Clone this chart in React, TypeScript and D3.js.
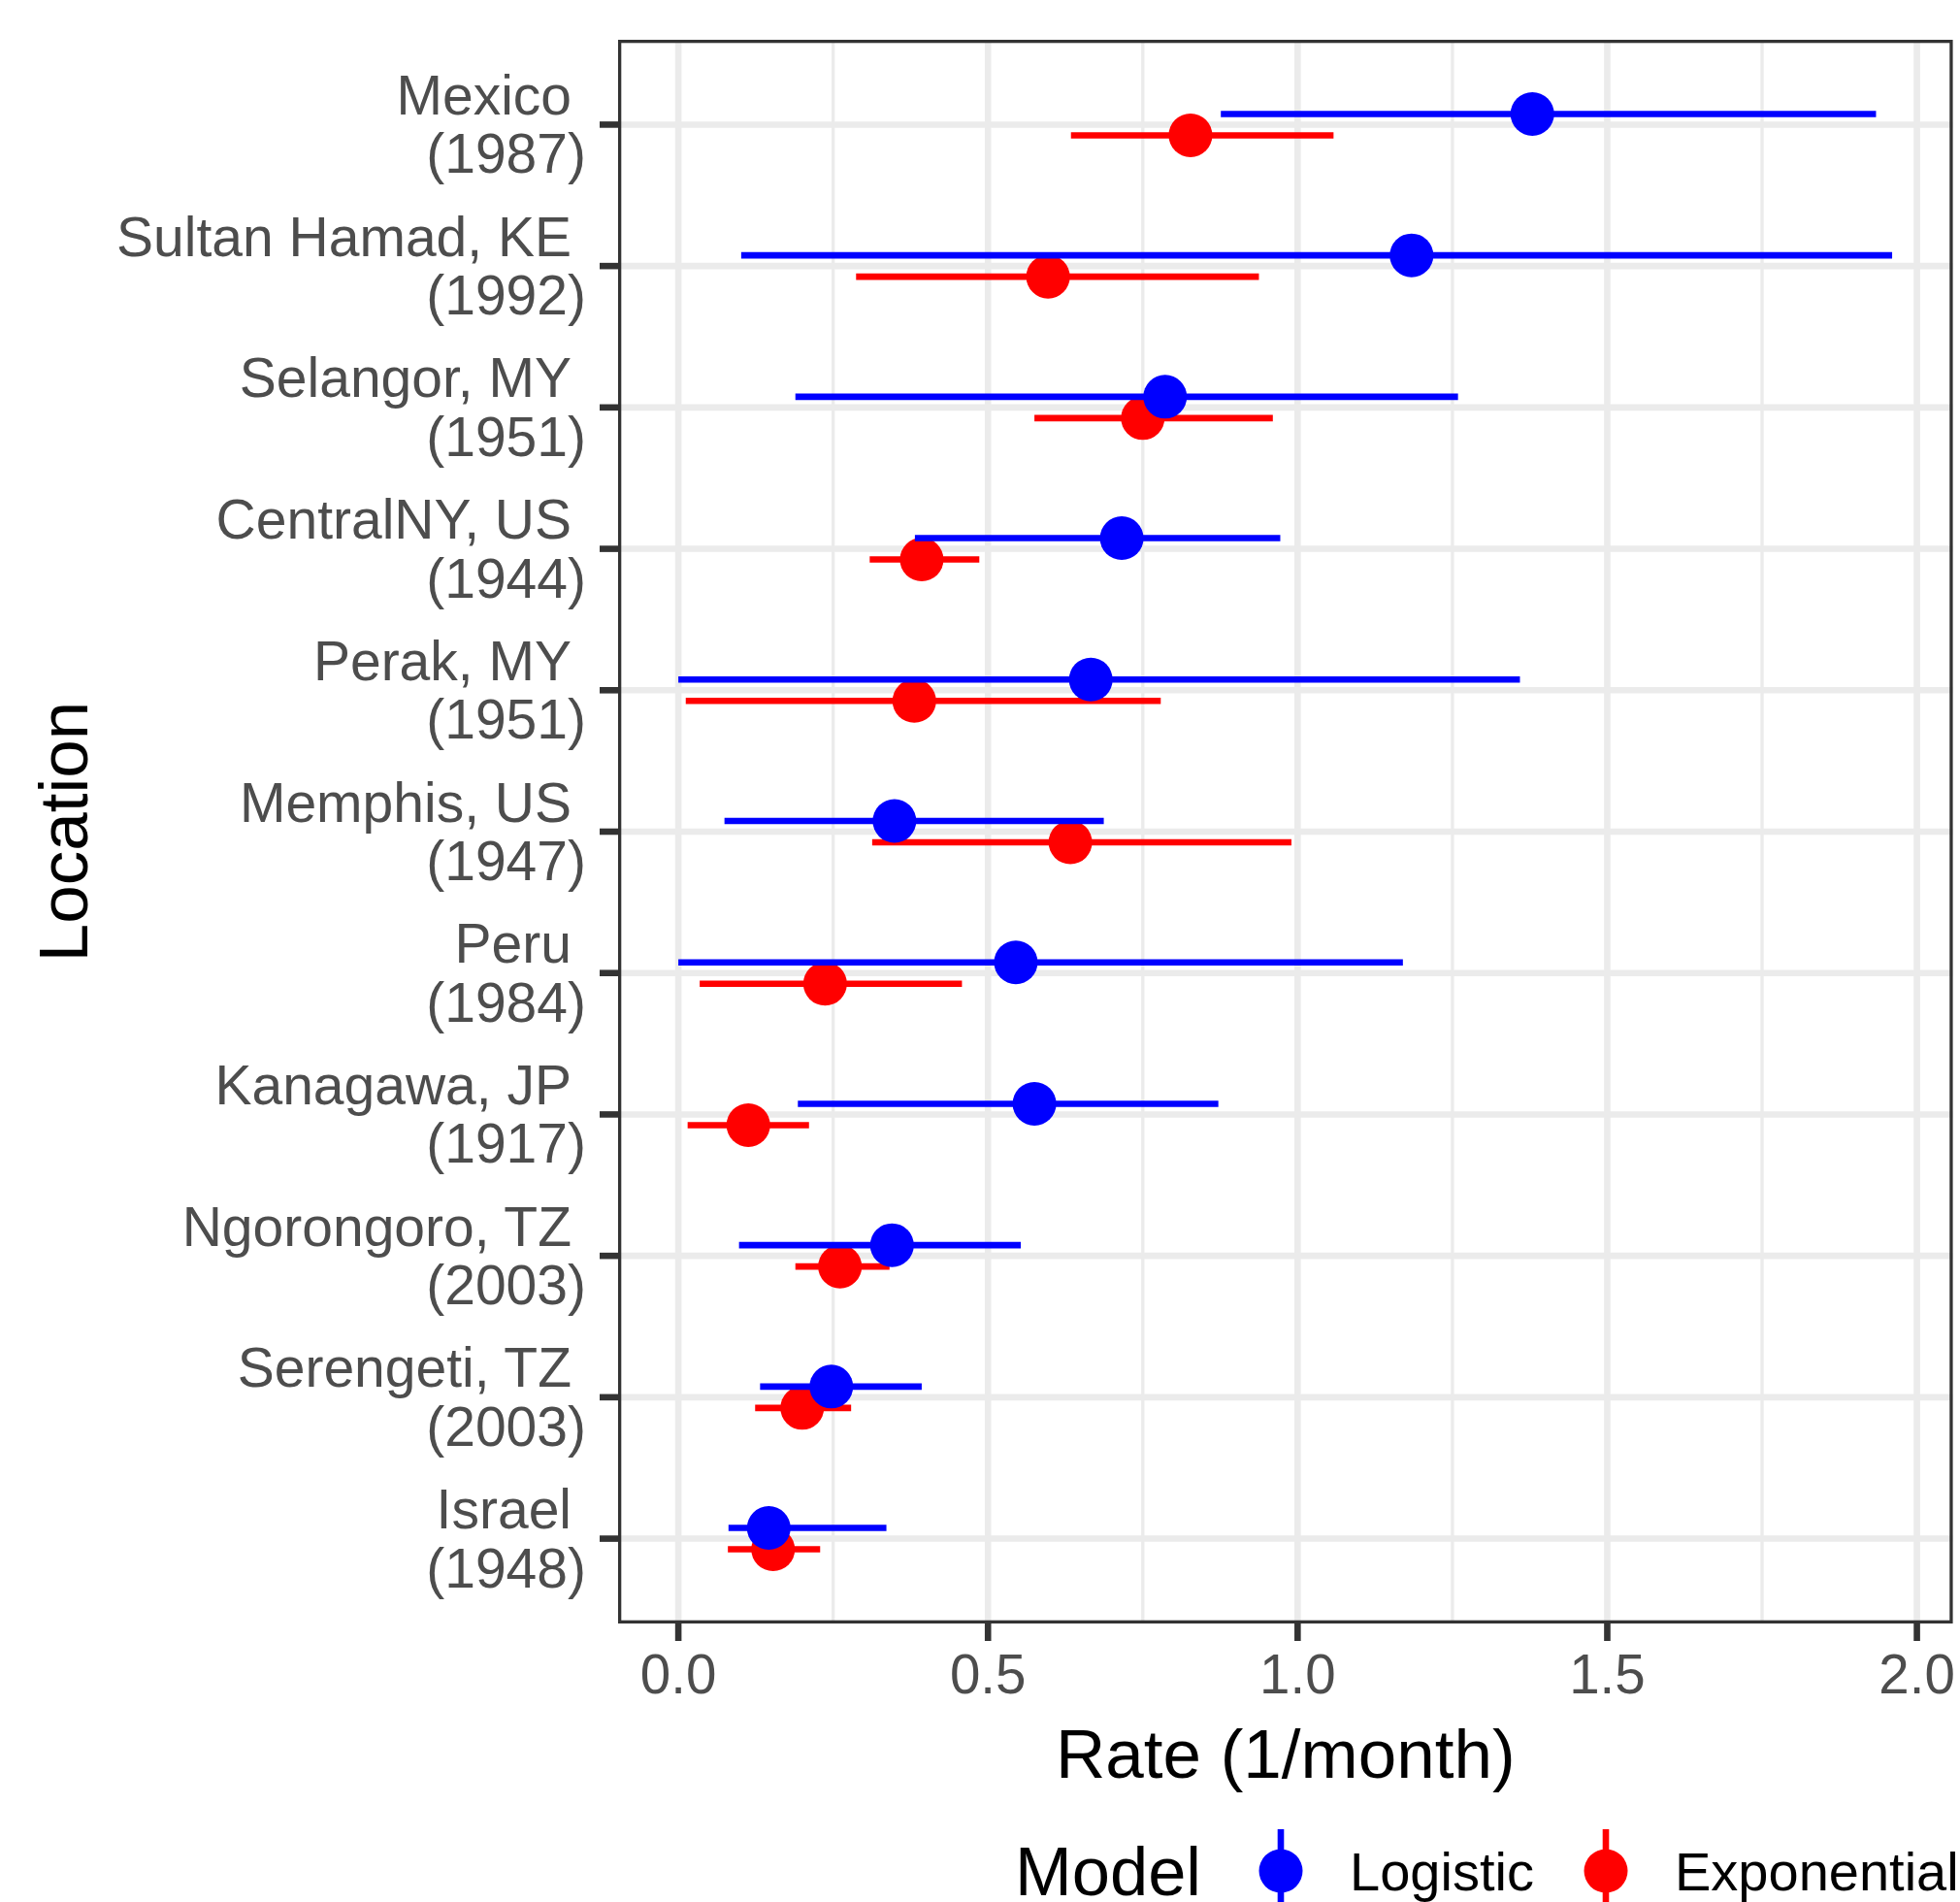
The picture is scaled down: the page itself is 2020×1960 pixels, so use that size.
import React from "react";
import * as d3 from "d3";

const locationNames = [
  "Mexico",
  "Sultan Hamad, KE",
  "Selangor, MY",
  "CentralNY, US",
  "Perak, MY",
  "Memphis, US",
  "Peru",
  "Kanagawa, JP",
  "Ngorongoro, TZ",
  "Serengeti, TZ",
  "Israel",
];
const locationYears = ["1987", "1992", "1951", "1944", "1951", "1947", "1984", "1917", "2003", "2003", "1948"];

const logisticLow = [0.876, 0.1015, 0.189, 0.382, 0.0, 0.0745, 0.0, 0.193, 0.098, 0.132, 0.081];
const logisticRate = [1.379, 1.184, 0.786, 0.716, 0.666, 0.349, 0.545, 0.575, 0.345, 0.247, 0.146];
const logisticHigh = [1.934, 1.96, 1.259, 0.972, 1.359, 0.687, 1.17, 0.872, 0.553, 0.393, 0.336];

const expLow = [0.634, 0.287, 0.575, 0.309, 0.012, 0.313, 0.0345, 0.015, 0.189, 0.124, 0.08];
const expRate = [0.827, 0.597, 0.75, 0.393, 0.381, 0.633, 0.237, 0.113, 0.261, 0.2, 0.153];
const expHigh = [1.058, 0.9375, 0.96, 0.486, 0.779, 0.99, 0.458, 0.211, 0.341, 0.279, 0.229];

const xMajorTicks = [0, 0.5, 1.0, 1.5, 2.0];
const xMinorTicks = [0.25, 0.75, 1.25, 1.75];
const xTickLabels = ["0.0", "0.5", "1.0", "1.5", "2.0"];

const seriesNames = ["Logistic", "Exponential"];
const seriesColors = ["#0000FF", "#FF0000"];

const W = 2020;
const H = 1960;
const panel = { left: 637, right: 2012.6, top: 41, bottom: 1673 };
const FONT = "'Liberation Sans', Arial, Helvetica, sans-serif";

export default function App() {
  const x = d3.scaleLinear().domain([-0.0973, 2.058]).range([panel.left, panel.right]);
  const y = d3
    .scalePoint<string>()
    .domain(locationNames)
    .range([panel.top, panel.bottom])
    .padding(0.6);
  const step = y.step();
  const dodge = 0.0755 * step;
  const lw = 6.6;
  const r = 22.5;

  const series = [
    { name: "Exponential", color: seriesColors[1], lo: expLow, mid: expRate, hi: expHigh, off: dodge },
    { name: "Logistic", color: seriesColors[0], lo: logisticLow, mid: logisticRate, hi: logisticHigh, off: -dodge },
  ];

  const tickColor = "#333333";
  const gridColor = "#EBEBEB";
  const labelColor = "#4D4D4D";

  return (
    <svg
      width={W}
      height={H}
      style={{ position: "absolute", left: 0, top: 0, background: "#fff" }}
      fontFamily={FONT}
    >
      <rect x={0} y={0} width={W} height={H} fill="#fff" />
      <defs>
        <clipPath id="panelClip">
          <rect x={panel.left} y={panel.top} width={panel.right - panel.left} height={panel.bottom - panel.top} />
        </clipPath>
      </defs>
      <g clipPath="url(#panelClip)">
        {xMinorTicks.map((t) => (
          <line key={"mn" + t} x1={x(t)} x2={x(t)} y1={panel.top} y2={panel.bottom} stroke={gridColor} strokeWidth={lw / 2} />
        ))}
        {xMajorTicks.map((t) => (
          <line key={"mj" + t} x1={x(t)} x2={x(t)} y1={panel.top} y2={panel.bottom} stroke={gridColor} strokeWidth={lw} />
        ))}
        {locationNames.map((c) => (
          <line key={"hy" + c} x1={panel.left} x2={panel.right} y1={y(c)} y2={y(c)} stroke={gridColor} strokeWidth={lw} />
        ))}
        {series.map((s) =>
          locationNames.map((c, i) => {
            const yy = (y(c) as number) + s.off;
            return (
              <g key={s.name + c}>
                <line x1={x(s.lo[i])} x2={x(s.hi[i])} y1={yy} y2={yy} stroke={s.color} strokeWidth={lw} />
                <circle cx={x(s.mid[i])} cy={yy} r={r} fill={s.color} />
              </g>
            );
          })
        )}
        <rect
          x={panel.left}
          y={panel.top}
          width={panel.right - panel.left}
          height={panel.bottom - panel.top}
          fill="none"
          stroke={tickColor}
          strokeWidth={lw}
        />
      </g>

      {/* y axis ticks and labels */}
      {locationNames.map((c, i) => {
        const yy = y(c) as number;
        return (
          <g key={"yl" + c}>
            <line x1={panel.left - 19} x2={panel.left} y1={yy} y2={yy} stroke={tickColor} strokeWidth={lw} />
            <text x={589} y={yy - 10.5} textAnchor="end" fontSize={57} fill={labelColor}>
              {c}
            </text>
            <text x={604} y={yy + 50} textAnchor="end" fontSize={57} fill={labelColor}>
              {"(" + locationYears[i] + ")"}
            </text>
          </g>
        );
      })}

      {/* x axis ticks and labels */}
      {xMajorTicks.map((t, i) => (
        <g key={"xl" + t}>
          <line x1={x(t)} x2={x(t)} y1={panel.bottom} y2={panel.bottom + 18} stroke={tickColor} strokeWidth={lw} />
          <text x={x(t)} y={1745} textAnchor="middle" fontSize={56.5} fill={labelColor}>
            {xTickLabels[i]}
          </text>
        </g>
      ))}

      {/* axis titles */}
      <text x={(panel.left + panel.right) / 2} y={1832} textAnchor="middle" fontSize={71} fill="#000">
        Rate (1/month)
      </text>
      <text
        transform={`translate(90, ${(panel.top + panel.bottom) / 2}) rotate(-90)`}
        textAnchor="middle"
        fontSize={71}
        fill="#000"
      >
        Location
      </text>

      {/* legend */}
      <text x={1046} y={1953} fontSize={70.5} fill="#000">
        Model
      </text>
      {seriesNames.map((n, i) => {
        const kx = [1320, 1655][i];
        const tx = [1391, 1726][i];
        return (
          <g key={"lg" + n}>
            <line x1={kx} x2={kx} y1={1885} y2={1972} stroke={seriesColors[i]} strokeWidth={lw} />
            <circle cx={kx} cy={1928} r={r} fill={seriesColors[i]} />
            <text x={tx} y={1948} fontSize={56} fill="#000">
              {n}
            </text>
          </g>
        );
      })}
    </svg>
  );
}
